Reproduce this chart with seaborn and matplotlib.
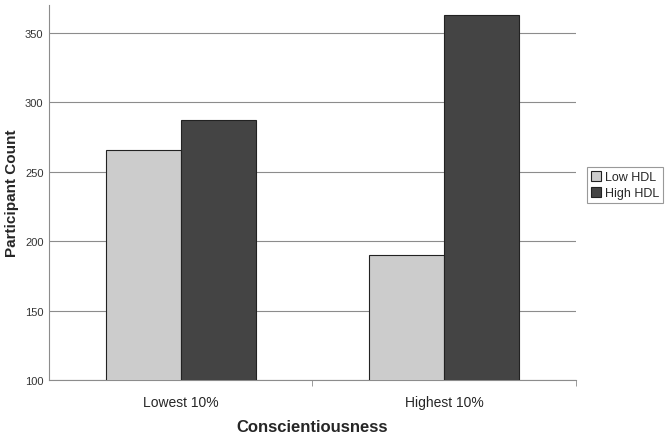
import pandas as pd
import matplotlib.pyplot as plt
import seaborn as sns

# data
groups = ["Lowest 10%", "Highest 10%"]
low_hdl = [266, 190]
high_hdl = [287, 363]
hue_names = ["Low HDL", "High HDL"]

df = pd.DataFrame({
    "group": groups * 2,
    "count": low_hdl + high_hdl,
    "hdl": [hue_names[0]] * 2 + [hue_names[1]] * 2,
})

sns.set_style("white")
plt.rcParams['font.family'] = ['Liberation Sans', 'DejaVu Sans']

fig = plt.figure(figsize=(6.72, 4.39), dpi=100)
ax = fig.add_axes([0.073, 0.132, 0.784, 0.854])

sns.barplot(data=df, x="group", y="count", hue="hdl", order=groups,
            hue_order=hue_names, palette=["#cccccc", "#444444"],
            width=0.57, gap=0, edgecolor="#222222", linewidth=0.8,
            ax=ax, zorder=3)

ax.set_ylim(100, 370)
ax.set_xlim(-0.5, 1.5)
ax.set_yticks([100, 150, 200, 250, 300, 350])
ax.yaxis.grid(True, color="#8c8c8c", linewidth=0.8, zorder=0)
ax.set_axisbelow(True)
ax.set_xticks([0, 1], groups)
ax.set_xticks([0.5, 1.5], minor=True)

for s in ["top", "right"]:
    ax.spines[s].set_visible(False)
for s in ["left", "bottom"]:
    ax.spines[s].set_color("#8c8c8c")
    ax.spines[s].set_linewidth(0.8)

ax.tick_params(axis="y", left=False, length=0, pad=4, labelsize=8, labelcolor="#333333")
ax.tick_params(axis="x", which="major", bottom=False, labelsize=10, pad=7)
ax.tick_params(axis="x", which="minor", bottom=True, length=4, color="#8c8c8c")

ax.set_xlabel("Conscientiousness", fontsize=12, fontweight="bold", va="center")
ax.set_ylabel("Participant Count", fontsize=11, fontweight="bold", va="center")
ax.xaxis.set_label_coords(0.5, -0.123)
ax.yaxis.set_label_coords(-0.071, 0.5)

leg = ax.legend(loc="center left", bbox_to_anchor=(1.01, 0.52), frameon=True,
                fancybox=False, fontsize=9, title=None, handlelength=0.8,
                handleheight=0.8, handletextpad=0.3, borderpad=0.3,
                labelspacing=0.3, borderaxespad=0.5)
leg.get_frame().set_edgecolor("#808080")
leg.get_frame().set_linewidth(0.8)

fig.savefig("out.png", dpi=100)
